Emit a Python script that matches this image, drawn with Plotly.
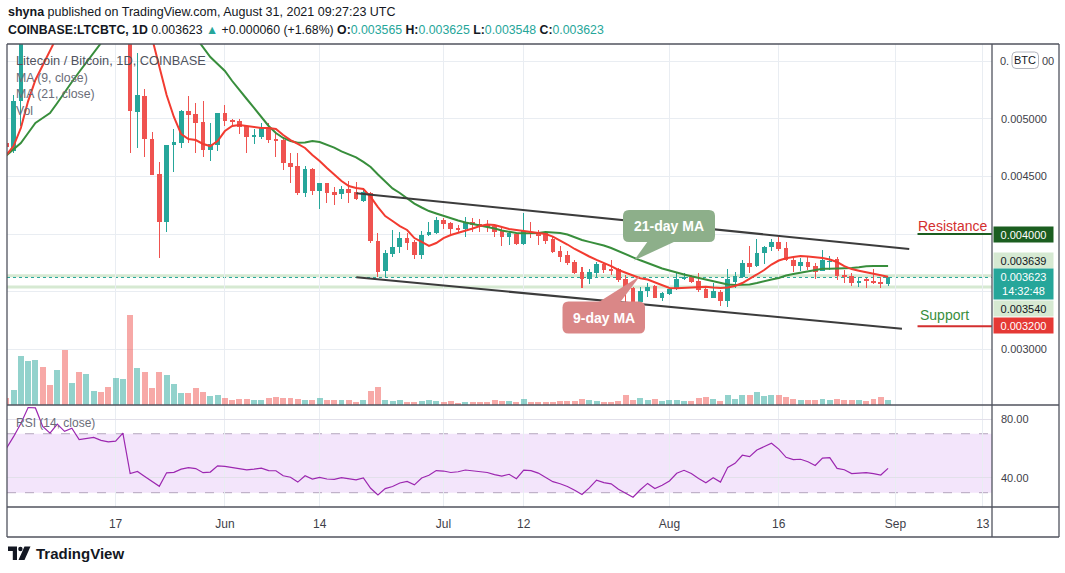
import plotly.graph_objects as go
import pandas as pd

W, H = 1065, 573
def px(x): return x / W
def py(y): return 1 - y / H

dates = pd.date_range("2021-05-02", "2021-08-31", freq="D")

open_ = [0.004787, 0.004722, 0.005153, 0.005900, 0.006150, 0.006400, 0.006050, 0.005950, 0.006300, 0.006150,
         0.006350, 0.006100, 0.006300, 0.006450, 0.006250, 0.006100, 0.006250, 0.006350, 0.005061, 0.005197,
         0.004827, 0.004520, 0.004107, 0.004769, 0.004792, 0.005069, 0.005041, 0.004971, 0.004728, 0.004772,
         0.005049, 0.004989, 0.004977, 0.004937, 0.004844, 0.004844, 0.004925, 0.004824, 0.004815, 0.004613,
         0.004590, 0.004358, 0.004564, 0.004376, 0.004440, 0.004362, 0.004347, 0.004388, 0.004367, 0.004286,
         0.004353, 0.003939, 0.003682, 0.003827, 0.003885, 0.003965, 0.003931, 0.003818, 0.003991, 0.004006,
         0.004121, 0.004093, 0.004050, 0.004043, 0.004107, 0.004087, 0.004078, 0.004069, 0.004026, 0.003977,
         0.003997, 0.003913, 0.004020, 0.004020, 0.004011, 0.003954, 0.003855, 0.003818, 0.003757, 0.003670,
         0.003607, 0.003664, 0.003740, 0.003699, 0.003694, 0.003612, 0.003529, 0.003410, 0.003508, 0.003549,
         0.003442, 0.003480, 0.003520, 0.003607, 0.003630, 0.003595, 0.003520, 0.003448, 0.003500, 0.003422,
         0.003586, 0.003630, 0.003746, 0.003722, 0.003833, 0.003890, 0.003931, 0.003876, 0.003775, 0.003722,
         0.003760, 0.003722, 0.003682, 0.003760, 0.003786, 0.003644, 0.003636, 0.003578, 0.003607, 0.003595,
         0.003584, 0.003565]
high = [0.004807, 0.005206, 0.005980, 0.006250, 0.006520, 0.006450, 0.006150, 0.006400, 0.006850, 0.006450,
        0.006600, 0.006450, 0.006550, 0.006500, 0.006350, 0.006350, 0.006500, 0.006450, 0.005567, 0.005255,
        0.004885, 0.004625, 0.004775, 0.004908, 0.005075, 0.005197, 0.005134, 0.005153, 0.004960, 0.005052,
        0.005119, 0.005000, 0.005000, 0.004945, 0.004908, 0.004965, 0.004965, 0.004879, 0.004820, 0.004700,
        0.004700, 0.004590, 0.004575, 0.004445, 0.004445, 0.004410, 0.004416, 0.004462, 0.004454, 0.004388,
        0.004367, 0.004011, 0.003861, 0.004035, 0.004020, 0.004006, 0.003948, 0.004029, 0.004107, 0.004145,
        0.004136, 0.004107, 0.004078, 0.004145, 0.004136, 0.004127, 0.004121, 0.004087, 0.004050, 0.004029,
        0.004011, 0.004180, 0.004104, 0.004035, 0.004029, 0.003971, 0.003896, 0.003855, 0.003775, 0.003716,
        0.003699, 0.003757, 0.003760, 0.003775, 0.003702, 0.003644, 0.003538, 0.003543, 0.003578, 0.003558,
        0.003500, 0.003543, 0.003659, 0.003659, 0.003642, 0.003659, 0.003538, 0.003572, 0.003514, 0.003694,
        0.003670, 0.003775, 0.003896, 0.003954, 0.003896, 0.003954, 0.003971, 0.003931, 0.003809, 0.003789,
        0.003809, 0.003751, 0.003861, 0.003809, 0.003803, 0.003688, 0.003659, 0.003630, 0.003618, 0.003699,
        0.003625, 0.003625]
low = [0.004728, 0.004700, 0.004937, 0.005850, 0.006050, 0.005950, 0.005850, 0.005900, 0.006000, 0.006050,
       0.006000, 0.005900, 0.006250, 0.006150, 0.005900, 0.006000, 0.006150, 0.004705, 0.004743, 0.004665,
       0.004511, 0.003795, 0.004020, 0.004540, 0.004746, 0.004787, 0.004700, 0.004665, 0.004636, 0.004722,
       0.004937, 0.004937, 0.004867, 0.004700, 0.004781, 0.004827, 0.004792, 0.004670, 0.004555, 0.004445,
       0.004338, 0.004318, 0.004338, 0.004214, 0.004272, 0.004254, 0.004301, 0.004266, 0.004295, 0.004280,
       0.003925, 0.003625, 0.003625, 0.003803, 0.003833, 0.003861, 0.003781, 0.003786, 0.003985, 0.003997,
       0.004046, 0.003991, 0.004006, 0.003977, 0.004020, 0.004020, 0.004020, 0.003977, 0.003896, 0.003905,
       0.003905, 0.003908, 0.003963, 0.003905, 0.003913, 0.003833, 0.003760, 0.003729, 0.003653, 0.003529,
       0.003566, 0.003625, 0.003659, 0.003644, 0.003586, 0.003413, 0.003393, 0.003364, 0.003456, 0.003442,
       0.003422, 0.003471, 0.003515, 0.003601, 0.003572, 0.003500, 0.003442, 0.003442, 0.003376, 0.003364,
       0.003529, 0.003616, 0.003659, 0.003711, 0.003740, 0.003855, 0.003855, 0.003768, 0.003673, 0.003682,
       0.003688, 0.003607, 0.003678, 0.003688, 0.003601, 0.003578, 0.003549, 0.003543, 0.003529, 0.003566,
       0.003529, 0.003548]
close = [0.004752, 0.005153, 0.005900, 0.006150, 0.006400, 0.006050, 0.005950, 0.006300, 0.006150, 0.006350,
         0.006100, 0.006300, 0.006450, 0.006250, 0.006100, 0.006250, 0.006350, 0.005069, 0.005206, 0.004827,
         0.004514, 0.004107, 0.004769, 0.004798, 0.005069, 0.005032, 0.004965, 0.004728, 0.004778, 0.005049,
         0.004983, 0.004971, 0.004931, 0.004844, 0.004859, 0.004925, 0.004815, 0.004809, 0.004613, 0.004584,
         0.004358, 0.004561, 0.004376, 0.004440, 0.004353, 0.004341, 0.004388, 0.004358, 0.004301, 0.004367,
         0.003939, 0.003673, 0.003833, 0.003885, 0.003965, 0.003925, 0.003818, 0.003991, 0.004015, 0.004121,
         0.004087, 0.004043, 0.004035, 0.004098, 0.004078, 0.004058, 0.004063, 0.004020, 0.003977, 0.004006,
         0.003913, 0.004026, 0.004006, 0.003983, 0.003939, 0.003844, 0.003803, 0.003751, 0.003664, 0.003607,
         0.003670, 0.003740, 0.003688, 0.003676, 0.003601, 0.003514, 0.003413, 0.003508, 0.003543, 0.003448,
         0.003486, 0.003520, 0.003607, 0.003630, 0.003586, 0.003514, 0.003448, 0.003508, 0.003422, 0.003607,
         0.003636, 0.003746, 0.003716, 0.003833, 0.003885, 0.003931, 0.003872, 0.003775, 0.003722, 0.003760,
         0.003716, 0.003673, 0.003775, 0.003768, 0.003636, 0.003630, 0.003578, 0.003595, 0.003595, 0.003578,
         0.003563, 0.003623]
volume_k = [7.3, 15, 49, 44, 45, 38, 20, 35, 55, 22,
            33, 31, 14, 13, 18, 27, 26, 90, 37, 33,
            17, 33, 30, 21, 12, 12, 17, 13, 9, 10,
            7, 5, 6, 6, 5, 5, 7, 8, 7, 7,
            6, 5, 5, 7, 5, 5, 5, 5, 3, 5,
            14, 18, 5, 4, 5, 3, 3, 4, 5, 4,
            3, 4, 2, 3, 3, 3, 3, 5, 4, 4,
            3, 6, 3, 3, 3, 3, 4, 4, 4, 6,
            5, 4, 3, 3, 4, 10, 5, 7, 5, 6,
            4, 5, 5, 4, 4, 7, 8, 6, 4, 10,
            6, 10, 10, 13, 9, 10, 10, 8, 6, 5,
            5, 5, 6, 5, 6, 5, 5, 5, 4, 6,
            8, 5]
ma9 = [0.004685, 0.004763, 0.004919, 0.005153, 0.005336, 0.005466, 0.005596, 0.005720, 0.005850, 0.005970,
       0.006080, 0.006150, 0.006200, 0.006230, 0.006240, 0.006230, 0.006220, 0.006120, 0.006000, 0.005860,
       0.005700, 0.005440, 0.005206, 0.005015, 0.004867, 0.004824, 0.004815, 0.004781, 0.004763, 0.004807,
       0.004893, 0.004937, 0.004945, 0.004937, 0.004928, 0.004919, 0.004919, 0.004911, 0.004859, 0.004815,
       0.004781, 0.004746, 0.004685, 0.004633, 0.004572, 0.004512, 0.004460, 0.004416, 0.004399, 0.004390,
       0.004321, 0.004234, 0.004156, 0.004113, 0.004069, 0.004035, 0.003965, 0.003931, 0.003896, 0.003922,
       0.003965, 0.003991, 0.004009, 0.004026, 0.004048, 0.004069, 0.004082, 0.004078, 0.004061, 0.004043,
       0.004035, 0.004026, 0.004022, 0.004013, 0.004000, 0.003977, 0.003944, 0.003909, 0.003870, 0.003835,
       0.003805, 0.003775, 0.003749, 0.003722, 0.003688, 0.003662, 0.003636, 0.003616, 0.003605, 0.003579,
       0.003553, 0.003532, 0.003529, 0.003532, 0.003538, 0.003540, 0.003543, 0.003536, 0.003532, 0.003536,
       0.003549, 0.003575, 0.003610, 0.003649, 0.003688, 0.003735, 0.003770, 0.003789, 0.003800, 0.003809,
       0.003805, 0.003800, 0.003792, 0.003779, 0.003757, 0.003722, 0.003696, 0.003682, 0.003670, 0.003657,
       0.003644, 0.003630]
ma21 = [0.004681, 0.004737, 0.004789, 0.004876, 0.004963, 0.005006, 0.005049, 0.005136, 0.005232, 0.005318,
        0.005405, 0.005492, 0.005579, 0.005657, 0.005740, 0.005820, 0.005900, 0.005950, 0.005980, 0.005990,
        0.005980, 0.005950, 0.005900, 0.005860, 0.005810, 0.005760, 0.005705, 0.005622, 0.005535, 0.005474,
        0.005414, 0.005327, 0.005253, 0.005171, 0.005093, 0.005015, 0.004937, 0.004876, 0.004833, 0.004807,
        0.004792, 0.004794, 0.004807, 0.004798, 0.004776, 0.004750, 0.004716, 0.004690, 0.004664, 0.004625,
        0.004581, 0.004516, 0.004451, 0.004395, 0.004356, 0.004312, 0.004264, 0.004230, 0.004199, 0.004178,
        0.004156, 0.004134, 0.004117, 0.004100, 0.004087, 0.004078, 0.004061, 0.004048, 0.004030, 0.004017,
        0.004009, 0.004006, 0.004006, 0.004009, 0.004017, 0.004015, 0.004009, 0.003996, 0.003970, 0.003948,
        0.003932, 0.003918, 0.003900, 0.003879, 0.003850, 0.003824, 0.003798, 0.003772, 0.003749, 0.003722,
        0.003701, 0.003683, 0.003664, 0.003649, 0.003633, 0.003618, 0.003601, 0.003586, 0.003571, 0.003562,
        0.003558, 0.003558, 0.003562, 0.003575, 0.003592, 0.003605, 0.003618, 0.003640, 0.003653, 0.003666,
        0.003676, 0.003688, 0.003699, 0.003699, 0.003699, 0.003701, 0.003705, 0.003711, 0.003720, 0.003722,
        0.003722, 0.003722]
rsi = [60, 68, 77, 87.8, 87.5, 75, 70.4, 76.5, 71.6, 73.8,
       66, 66.5, 67.5, 65.5, 64.5, 65, 70.4, 43, 44.4, 41,
       37.5, 34.3, 43.5, 43.8, 46, 47, 46.4, 43.6, 44, 48.2,
       47.8, 47.2, 46.5, 45.5, 46, 46.7, 45, 44.9, 41.5, 40.5,
       37.2, 41.5, 39.2, 40.4, 39.3, 39, 40.2, 39.2, 38.7, 40,
       33, 28.4, 32.8, 34.2, 36.6, 37.6, 35.3, 40, 41.8, 45,
       44.7, 43.7, 44.2, 45.4, 44.7, 44.1, 43.7, 42.3, 41.2, 42.5,
       39.5, 45.3, 45, 43.3, 40.5, 37.5, 36.1, 34.2, 31.7, 28.8,
       33.3, 38.5, 36.8, 36, 32.3, 29.5, 26.9, 32, 36.3, 32.8,
       35.1, 38, 43.2, 45.2, 43, 39.7, 36.8, 40.1, 37.2, 47.2,
       49.9, 55.4, 54.5, 59, 61.5, 63.5, 59.6, 54, 52.5, 52.7,
       51, 48.5, 53.5, 53.8, 46.5, 45.6, 43, 43.5, 43.6, 43,
       42, 46.5]

tick_dates = ["2021-05-17", "2021-06-01", "2021-06-14", "2021-07-01", "2021-07-12",
              "2021-08-01", "2021-08-16", "2021-09-01", "2021-09-13"]
tick_text = ["17", "Jun", "14", "Jul", "12", "Aug", "16", "Sep", "13"]
price_ticks = [0.003, 0.0035, 0.004, 0.0045, 0.005, 0.0055]
price_tick_text = ["0.003000", "", "", "0.004500", "0.005000", ""]
top_tick = 0.0055
resistance, support = 0.004000, 0.003200
range_hi, range_lo = 0.003639, 0.003540

FONT = "Liberation Sans, Arial, sans-serif"
TXT = "#3e4048"
GRID = "#e9edf2"
UP, DN = "#26a69a", "#ef5350"
DAY = 86400000
X_RANGE = ["2021-05-02 02:24", "2021-09-14 06:14"]

is_up = [c >= o for o, c in zip(open_, close)]
col = [UP if u else DN for u in is_up]
vcol = ["rgba(38,166,154,0.5)" if u else "rgba(239,83,80,0.5)" for u in is_up]

fig = go.Figure()
fig.add_trace(go.Bar(x=dates, y=volume_k, marker_color=vcol, marker_line_width=0,
                     width=0.82 * DAY, xaxis="x", yaxis="y2"))
fig.add_trace(go.Bar(x=dates, y=[h - l for h, l in zip(high, low)], base=low,
                     marker_color=col, marker_line_width=0, width=0.14 * DAY, xaxis="x", yaxis="y"))
fig.add_trace(go.Bar(x=dates, y=[max(abs(c - o), 0.000008) for o, c in zip(open_, close)],
                     base=[min(o, c) for o, c in zip(open_, close)],
                     marker_color=col, marker_line_width=0, width=0.64 * DAY, xaxis="x", yaxis="y"))
fig.add_trace(go.Scatter(x=dates, y=ma21, mode="lines", line=dict(color="#388e3c", width=2),
                         xaxis="x", yaxis="y"))
fig.add_trace(go.Scatter(x=dates, y=ma9, mode="lines", line=dict(color="#f23b30", width=2),
                         xaxis="x", yaxis="y"))
fig.add_trace(go.Scatter(x=dates, y=rsi, mode="lines", line=dict(color="#9c27b0", width=1.2),
                         xaxis="x2", yaxis="y3"))

shapes = []
# RSI band and levels
shapes.append(dict(type="rect", xref="paper", yref="y3", x0=px(7), x1=px(992), y0=30, y1=70,
                   fillcolor="#f3e5fb", line_width=0, layer="below"))
for lvl in (30, 70):
    shapes.append(dict(type="line", xref="paper", yref="y3", x0=px(7), x1=px(992), y0=lvl, y1=lvl,
                       line=dict(color="#b3a6bd", width=1, dash="dash"), layer="below"))
# light green range lines and last price line
for lvl in (range_hi, range_lo):
    shapes.append(dict(type="line", xref="paper", yref="y", x0=px(7), x1=px(992), y0=lvl, y1=lvl,
                       line=dict(color="#d6e9d2", width=3), layer="between"))
shapes.append(dict(type="line", xref="paper", yref="y", x0=px(7), x1=px(992), y0=close[-1], y1=close[-1],
                   line=dict(color=UP, width=1, dash="dot"), layer="between"))
# channel trend lines
shapes.append(dict(type="line", xref="x", yref="y", x0="2021-06-19 00:45", y0=0.004353,
                   x1="2021-09-02 21:40", y1=0.003870, line=dict(color="#3c3c3c", width=2)))
shapes.append(dict(type="line", xref="x", yref="y", x0="2021-06-19 00:45", y0=0.003624,
                   x1="2021-09-01 21:40", y1=0.003179, line=dict(color="#3c3c3c", width=2)))
# resistance / support markers
shapes.append(dict(type="line", xref="x", yref="y", x0="2021-09-04 01:00", x1=X_RANGE[1],
                   y0=resistance, y1=resistance, line=dict(color="#1b5e20", width=2)))
shapes.append(dict(type="line", xref="x", yref="y", x0="2021-09-04 01:00", x1=X_RANGE[1],
                   y0=support, y1=support, line=dict(color="#d32f2f", width=2)))


def rrect(x0, y0, x1, y1, r):
    X = px
    Y = py
    return (f"M{X(x0 + r)},{Y(y0)} L{X(x1 - r)},{Y(y0)} Q{X(x1)},{Y(y0)} {X(x1)},{Y(y0 + r)} "
            f"L{X(x1)},{Y(y1 - r)} Q{X(x1)},{Y(y1)} {X(x1 - r)},{Y(y1)} "
            f"L{X(x0 + r)},{Y(y1)} Q{X(x0)},{Y(y1)} {X(x0)},{Y(y1 - r)} "
            f"L{X(x0)},{Y(y0 + r)} Q{X(x0)},{Y(y0)} {X(x0 + r)},{Y(y0)} Z")


def tri(a, b, c):
    return f"M{px(a[0])},{py(a[1])} L{px(b[0])},{py(b[1])} L{px(c[0])},{py(c[1])} Z"


G_BOX, R_BOX = "#8daf8a", "#da8787"
shapes.append(dict(type="path", xref="paper", yref="paper", path=rrect(623, 210, 715, 242, 6),
                   fillcolor=G_BOX, line_width=0))
shapes.append(dict(type="path", xref="paper", yref="paper", path=tri((648, 241), (676, 241), (634, 260.5)),
                   fillcolor=G_BOX, line_width=0))
shapes.append(dict(type="path", xref="paper", yref="paper", path=rrect(562.5, 301.5, 645, 333.5, 6),
                   fillcolor=R_BOX, line_width=0))
shapes.append(dict(type="path", xref="paper", yref="paper", path=tri((598, 302.5), (620, 302.5), (640, 276)),
                   fillcolor=R_BOX, line_width=0))
# BTC badge
shapes.append(dict(type="path", xref="paper", yref="paper", path=rrect(1012, 52, 1038.5, 68.5, 4),
                   fillcolor="white", line=dict(color="#b2b5be", width=1)))

# frame
FR = "#50535e"
for (x0, y0, x1, y1) in [(7, 44, 1059, 44), (7, 44, 7, 537), (1059, 44, 1059, 537), (7, 537, 1059, 537),
                         (992, 44, 992, 537), (7, 405, 1059, 405), (7, 507, 1059, 507)]:
    shapes.append(dict(type="line", xref="paper", yref="paper", x0=px(x0), y0=py(y0), x1=px(x1), y1=py(y1),
                       line=dict(color=FR, width=1.3)))
# TradingView logo
shapes.append(dict(type="path", xref="paper", yref="paper",
                   path=f"M{px(8)},{py(546.5)} L{px(17)},{py(546.5)} L{px(17)},{py(560)} L{px(12.8)},{py(560)} "
                        f"L{px(12.8)},{py(551)} L{px(8)},{py(551)} Z", fillcolor="#131722", line_width=0))
shapes.append(dict(type="circle", xref="paper", yref="paper", x0=px(18.2), x1=px(22.6), y0=py(551.2),
                   y1=py(546.8), fillcolor="#131722", line_width=0))
shapes.append(dict(type="path", xref="paper", yref="paper",
                   path=f"M{px(24.5)},{py(546.5)} L{px(30.5)},{py(546.5)} L{px(24.5)},{py(560)} L{px(18.5)},{py(560)} Z",
                   fillcolor="#131722", line_width=0))

ann = []
def text(x, y, s, size=12, color=TXT, xanchor="left", **kw):
    ann.append(dict(xref="paper", yref="paper", x=px(x), y=py(y), text=s, showarrow=False,
                    xanchor=xanchor, yanchor="middle", font=dict(family=FONT, size=size, color=color), **kw))

chg = close[-1] - close[-2]
pct = chg / close[-2] * 100
T = "#26a69a"
text(6, 12, "<b>shyna</b> published on TradingView.com, August 31, 2021 09:27:23 UTC", 12.5, "#131722")
text(6, 30, f"<b>COINBASE:LTCBTC, 1D</b> {close[-1]:.6f} <span style='color:{T}'>▲</span> "
            f"{chg:+.6f} ({pct:+.2f}%) <b>O:</b><span style='color:{T}'>{open_[-1]:.6f}</span> "
            f"<b>H:</b><span style='color:{T}'>{high[-1]:.6f}</span> "
            f"<b>L:</b><span style='color:{T}'>{low[-1]:.6f}</span> "
            f"<b>C:</b><span style='color:{T}'>{close[-1]:.6f}</span>", 12.3, "#131722")
text(14, 60, "Litecoin / Bitcoin, 1D, COINBASE", 12.8, "#50535e")
text(14, 77.5, "MA (9, close)", 12.3, "#6a6d78")
text(14, 94.5, "MA (21, close)", 12.3, "#6a6d78")
text(14, 111, "Vol", 12.3, "#6a6d78")
text(14, 423, "RSI (14, close)", 12, "#6a6d78")
text(952, 226, "Resistance", 14, "#d32f2f", xanchor="center")
text(944, 315, "Support", 14, "#388e3c", xanchor="center")
text(669, 226, "<b>21-day MA</b>", 14, "white", xanchor="center")
text(604, 317.5, "<b>9-day MA</b>", 14, "white", xanchor="center")
text(34, 553, "<b>TradingView</b>", 15, "#131722")
text(1025.2, 60.3, "BTC", 11, "#131722", xanchor="center")

# top price label, partly hidden behind the BTC badge (split around it)
top_label = f"{top_tick:.6f}"
ann.append(dict(xref="paper", yref="y", x=px(1011), y=top_tick, text=top_label[:2], showarrow=False,
                xanchor="right", yanchor="middle", font=dict(family=FONT, size=11, color=TXT)))
ann.append(dict(xref="paper", yref="y", x=px(1039.5), y=top_tick, text=top_label[-2:], showarrow=False,
                xanchor="left", yanchor="middle", font=dict(family=FONT, size=11, color=TXT)))

def axis_label(val, txt, bg, fg, shift=0, h=12):
    ann.append(dict(xref="paper", yref="y", x=px(992.5), y=val, yshift=shift, text=txt, showarrow=False,
                    xanchor="left", yanchor="middle", width=56, height=h, align="center", bgcolor=bg,
                    borderpad=1.5, font=dict(family=FONT, size=11, color=fg)))

axis_label(resistance, f"{resistance:.6f}", "#1b5e20", "white")
axis_label(range_hi, f"{range_hi:.6f}", "#d6e9d2", "#131722", shift=15.5)
axis_label(close[-1], f"{close[-1]:.6f}<br>14:32:48", UP, "white", shift=-6.7, h=27)
axis_label(range_lo, f"{range_lo:.6f}", "#d6e9d2", "#131722", shift=-21.3)
axis_label(support, f"{support:.6f}", "#e53935", "white", shift=1)

fig.update_layout(
    width=W, height=H, margin=dict(l=0, r=0, t=0, b=0), autosize=False,
    paper_bgcolor="white", plot_bgcolor="white", showlegend=False, hovermode=False,
    barmode="overlay", bargap=0,
    shapes=shapes, annotations=ann,
    xaxis=dict(domain=[px(7), px(992)], range=X_RANGE, type="date", tickvals=tick_dates,
               showticklabels=False, showgrid=True, gridcolor=GRID, zeroline=False, showline=False,
               anchor="y"),
    xaxis2=dict(domain=[px(7), px(992)], range=X_RANGE, type="date", tickvals=tick_dates, ticktext=tick_text,
                tickfont=dict(family=FONT, size=12, color=TXT), showgrid=True, gridcolor=GRID,
                zeroline=False, showline=False, anchor="y3", ticks="", ticklabelstandoff=8),
    yaxis=dict(domain=[py(405), py(44)], range=[0.002517, 0.005648], side="right", anchor="x",
               tickvals=price_ticks, ticktext=price_tick_text, tickfont=dict(family=FONT, size=11, color=TXT),
               showgrid=True, gridcolor=GRID, zeroline=False, ticks="", ticklabelstandoff=8),
    yaxis2=dict(overlaying="y", range=[0, max(volume_k) * 4.0], visible=False, anchor="x"),
    yaxis3=dict(domain=[py(507), py(405)], range=[20.3, 89.5], side="right", anchor="x2",
                tickvals=[40, 80], ticktext=["40.00", "80.00"], tickfont=dict(family=FONT, size=11, color=TXT),
                showgrid=True, gridcolor="#e2e0ea", zeroline=False, ticks="", ticklabelstandoff=8),
)

fig.write_html("out.html", config={"displayModeBar": False, "staticPlot": True},
               post_script="document.body.style.margin='0';")
